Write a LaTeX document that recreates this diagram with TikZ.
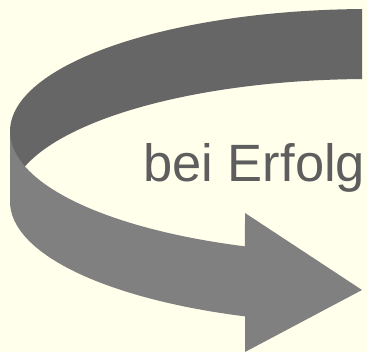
\documentclass[tikz,border=0pt]{standalone}
\usepackage{fontspec}
\setmainfont{Liberation Sans}
\definecolor{bgcol}{HTML}{FFFFEC}
\definecolor{backwall}{HTML}{666666}
\definecolor{frontwall}{HTML}{808080}
\definecolor{txtcol}{HTML}{5E5E5E}
\begin{document}
\begin{tikzpicture}[x=1pt,y=1pt,
  backstyle/.style={fill=backwall},
  frontstyle/.style={fill=frontwall},
  labelstyle/.style={text=txtcol,font=\fontsize{52.5}{60}\selectfont,inner sep=0pt,anchor=base west}]
\useasboundingbox (0,0) rectangle (367,352);
\fill[bgcol] (0,0) rectangle (367,352);
% back wall (inner face of ribbon)
\fill[backstyle] (370pt,220.5pt) ++(91.27:360pt and 122.5pt)
  arc[start angle=91.27,end angle=180,x radius=360pt,y radius=122.5pt]
  -- ++(0pt,-70pt)
  arc[start angle=180,end angle=91.27,x radius=360pt,y radius=122.5pt]
  -- cycle;
% front wall with arrow head
\fill[frontstyle] (10pt,220.5pt)
  arc[start angle=180,end angle=249.68,x radius=360pt,y radius=122.5pt]
  coordinate (shafttop)
  -- (245pt,139pt) coordinate (headtop)
  -- (362pt,62pt) coordinate (tip)
  -- (245pt,0pt) coordinate (headbot)
  -- (245pt,35.6pt) coordinate (shaftbot)
  arc[start angle=249.68,end angle=180,x radius=360pt,y radius=122.5pt]
  -- cycle;
\node[labelstyle] (lbl) at (143.2,170.3) {bei Erfolg};
\end{tikzpicture}
\end{document}
